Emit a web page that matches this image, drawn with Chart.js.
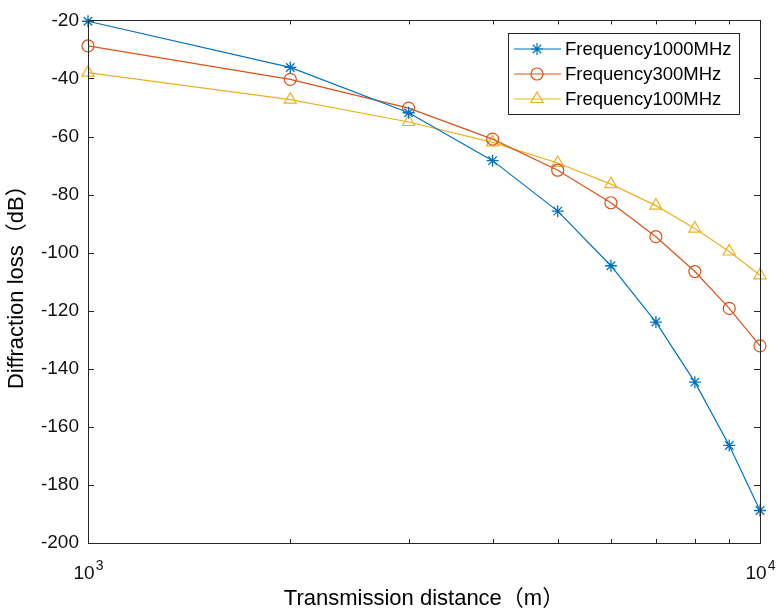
<!DOCTYPE html>
<html>
<head>
<meta charset="utf-8">
<script src="https://cdn.jsdelivr.net/npm/chart.js@4/dist/chart.umd.min.js"></script>
<style>
  html, body { margin: 0; padding: 0; background: #fff; }
  #wrap { width: 777px; height: 615px; }
</style>
</head>
<body>
<div id="wrap"><canvas id="lossChart"></canvas></div>
<script>
// distances in metres, loss in dB
const distances = [1000, 2000, 3000, 4000, 5000, 6000, 7000, 8000, 9000, 10000];
const loss1000 = [-20.3, -36.2, -51.8, -68.3, -85.7, -104.5, -123.9, -144.6, -166.4, -188.8];
const loss300 = [-28.8, -40.3, -50.2, -60.9, -71.6, -82.8, -94.5, -106.5, -119.2, -132.1];
const loss100 = [-38.0, -47.3, -55.0, -62.0, -69.1, -76.4, -83.8, -91.7, -99.6, -107.8];
const seriesLabels = ['Frequency1000MHz', 'Frequency300MHz', 'Frequency100MHz'];
const xTickLabels = [1000, 10000];

const toPoints = (ys) => distances.map((d, i) => ({ x: d, y: ys[i] }));
const axisColor = '#262626';
const fontFamily = '"Liberation Sans", Arial, "Noto Sans CJK SC", sans-serif';

const data = {
  datasets: [
    {
      label: seriesLabels[0],
      data: toPoints(loss1000),
      borderColor: '#0072BD',
      backgroundColor: 'rgba(0,0,0,0)',
      pointStyle: 'star',
      pointRadius: 6,
      pointBorderWidth: 1.3
    },
    {
      label: seriesLabels[1],
      data: toPoints(loss300),
      borderColor: '#D95319',
      backgroundColor: 'rgba(0,0,0,0)',
      pointStyle: 'circle',
      pointRadius: 6,
      pointBorderWidth: 1.2
    },
    {
      label: seriesLabels[2],
      data: toPoints(loss100),
      borderColor: '#EDB120',
      backgroundColor: 'rgba(0,0,0,0)',
      pointStyle: 'triangle',
      pointRadius: 7,
      pointBorderWidth: 1.2
    }
  ]
};

// box, inward ticks, 10^n labels and the legend, drawn the way matlab does
const matlabAxes = {
  id: 'matlabAxes',
  afterDraw(chart) {
    const { ctx, chartArea: a, scales } = chart;
    const xs = scales.x, ys = scales.y;
    ctx.save();
    ctx.strokeStyle = axisColor;
    ctx.lineWidth = 1;

    ctx.beginPath();
    // only the 1000-step ticks, like matlab's log minor ticks
    xs.ticks.filter(t => t.value % 1000 === 0).forEach(t => {
      const px = Math.round(xs.getPixelForValue(t.value)) + 0.5;
      const len = xTickLabels.includes(t.value) ? 7 : 4;
      ctx.moveTo(px, a.bottom); ctx.lineTo(px, a.bottom - len);
      ctx.moveTo(px, a.top); ctx.lineTo(px, a.top + len);
    });
    ys.ticks.forEach(t => {
      const py = Math.round(ys.getPixelForValue(t.value)) + 0.5;
      ctx.moveTo(a.left, py); ctx.lineTo(a.left + 6, py);
      ctx.moveTo(a.right, py); ctx.lineTo(a.right - 6, py);
    });
    ctx.stroke();
    ctx.strokeRect(Math.round(a.left) + 0.5, Math.round(a.top) + 0.5,
      Math.round(a.right - a.left), Math.round(a.bottom - a.top));

    // x tick labels as 10 with a raised exponent
    ctx.fillStyle = '#111';
    ctx.textBaseline = 'alphabetic';
    xTickLabels.forEach(v => {
      const px = xs.getPixelForValue(v);
      const exp = String(Math.round(Math.log10(v)));
      ctx.font = '19px ' + fontFamily;
      const wBase = ctx.measureText('10').width;
      ctx.font = '14px ' + fontFamily;
      const wExp = ctx.measureText(exp).width;
      const x0 = px - (wBase + wExp) / 2;
      ctx.font = '19px ' + fontFamily;
      ctx.textAlign = 'left';
      ctx.fillText('10', x0, a.bottom + 36);
      ctx.font = '14px ' + fontFamily;
      ctx.fillText(exp, x0 + wBase + 1, a.bottom + 27);
    });

    // legend
    const lx = 508, ly = 33, lw = 231, lh = 81;
    ctx.fillStyle = '#fff';
    ctx.fillRect(lx, ly, lw, lh);
    ctx.strokeStyle = axisColor;
    ctx.lineWidth = 1;
    ctx.strokeRect(lx + 0.5, ly + 0.5, lw, lh);
    const rows = [49, 74, 99];
    chart.data.datasets.forEach((ds, i) => {
      const y = rows[i];
      ctx.strokeStyle = ds.borderColor;
      ctx.lineWidth = 1.2;
      ctx.beginPath();
      ctx.moveTo(514, y); ctx.lineTo(561, y);
      ctx.stroke();
      ctx.fillStyle = 'rgba(0,0,0,0)';
      Chart.helpers.drawPoint(ctx, {
        pointStyle: ds.pointStyle, radius: ds.pointRadius,
        rotation: 0, borderWidth: ds.pointBorderWidth
      }, 537, y);
      ctx.fillStyle = '#000';
      ctx.font = '18.5px ' + fontFamily;
      ctx.textAlign = 'left';
      ctx.textBaseline = 'middle';
      ctx.fillText(ds.label, 565, y + 1);
    });
    ctx.restore();
  }
};

const config = {
  type: 'line',
  data: data,
  options: {
    responsive: true,
    maintainAspectRatio: false,
    animation: false,
    layout: { padding: { top: 13, right: 17, left: 0, bottom: 0 } },
    elements: {
      line: { borderWidth: 1.2, tension: 0, fill: false },
      point: { hoverRadius: 6 }
    },
    datasets: { line: { clip: false } },
    plugins: {
      legend: { display: false },
      tooltip: { enabled: false }
    },
    scales: {
      x: {
        type: 'logarithmic',
        min: 1000,
        max: 10000,
        grid: { display: false, drawTicks: false },
        border: { display: false },
        ticks: { display: false },
        title: {
          display: true,
          text: 'Transmission distance（m）',
          color: '#000',
          font: { size: 22, family: fontFamily },
          padding: { top: 0, bottom: 3 }
        },
        afterFit(scale) { scale.height = 72; }
      },
      y: {
        type: 'linear',
        min: -200,
        max: -20,
        grid: { display: false, drawTicks: false },
        border: { display: false },
        ticks: {
          stepSize: 20,
          padding: 9,
          color: '#111',
          font: { size: 19, family: fontFamily }
        },
        title: {
          display: true,
          text: 'Diffraction loss（dB）',
          color: '#000',
          font: { size: 22, family: fontFamily },
          padding: { top: 4, bottom: 0 }
        },
        afterFit(scale) { scale.width = 88; }
      }
    }
  },
  plugins: [matlabAxes]
};

Chart.defaults.font.family = fontFamily;
const lossChart = new Chart(document.getElementById('lossChart').getContext('2d'), config);
</script>
</body>
</html>
